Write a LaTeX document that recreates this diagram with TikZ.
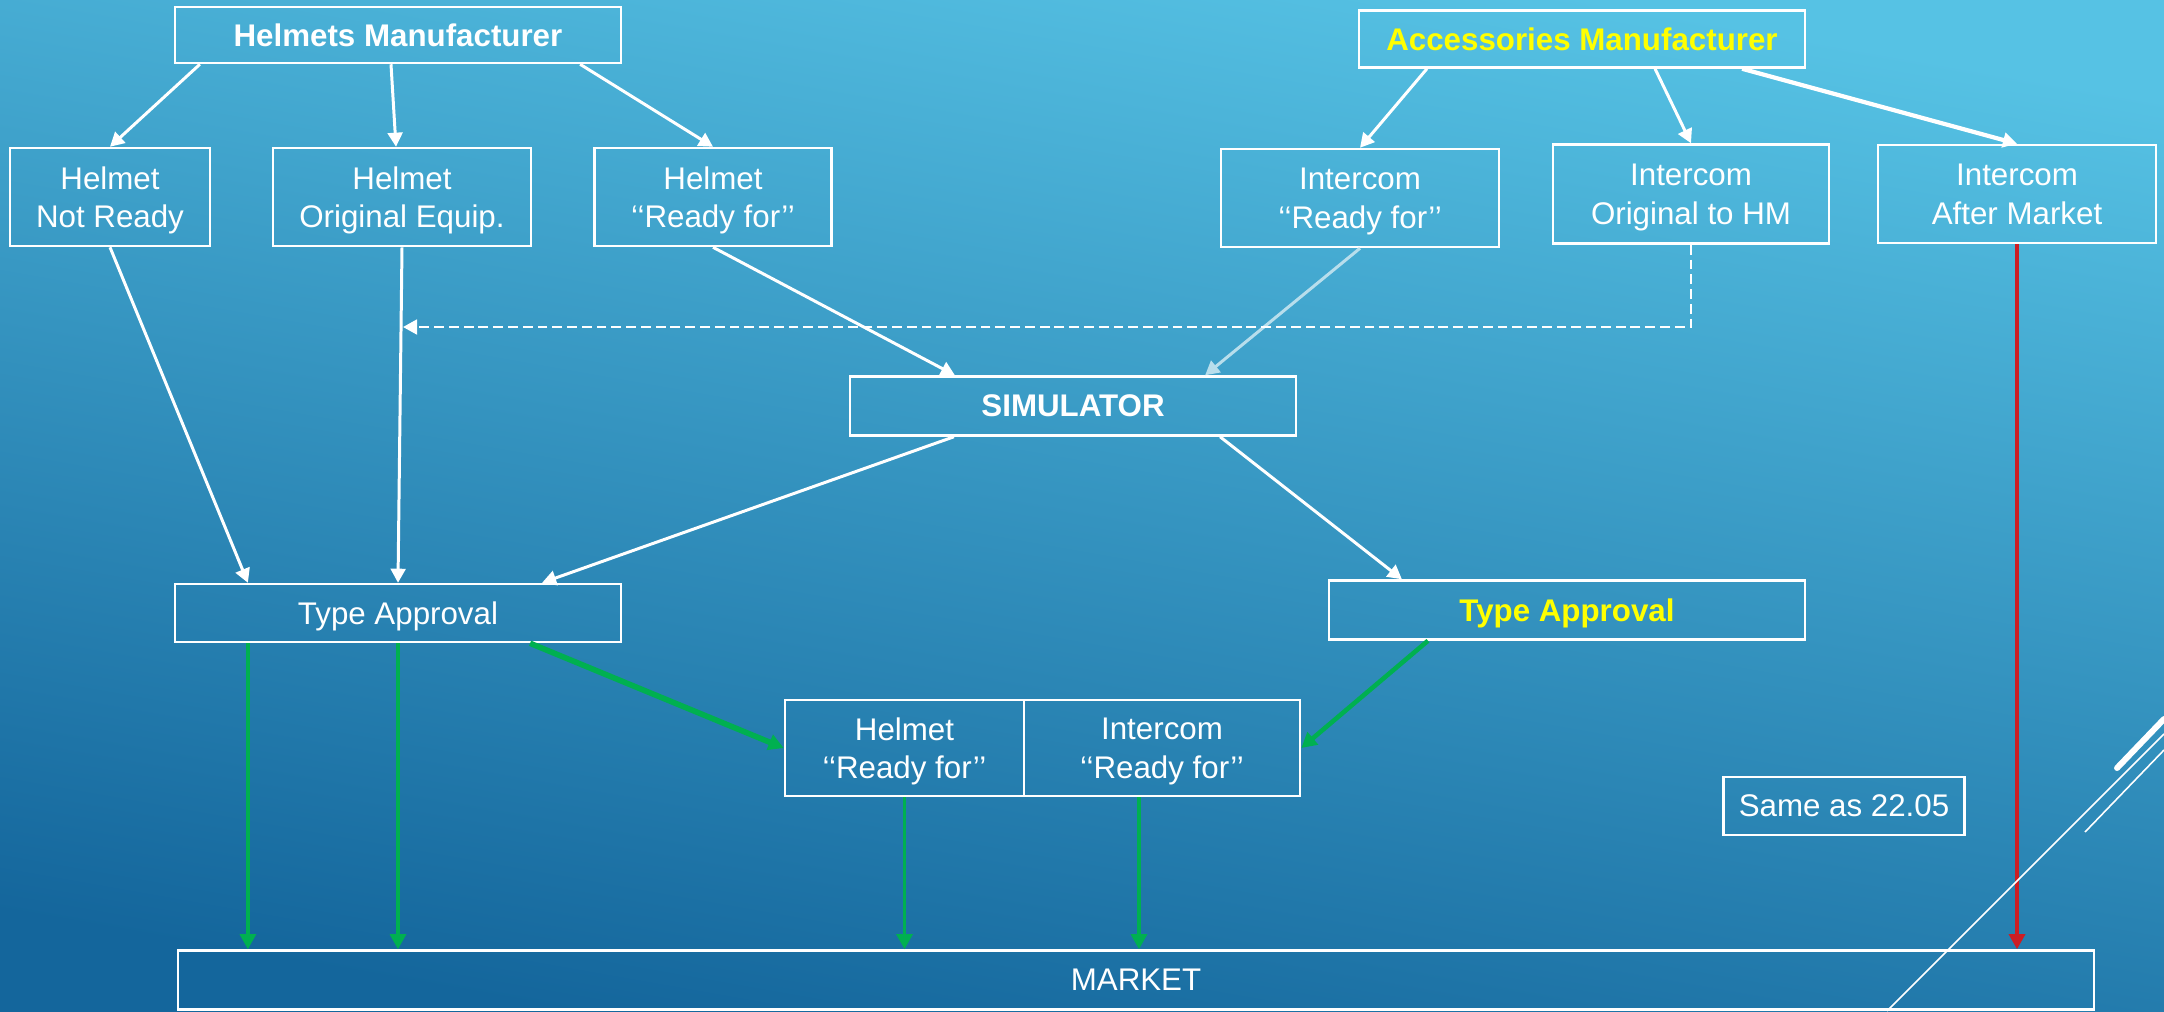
\documentclass[tikz,border=0pt]{standalone}
\usepackage{fontspec}
\setmainfont{Liberation Sans}
\usetikzlibrary{arrows.meta}
\definecolor{bgtop}{RGB}{86,194,228}
\definecolor{bgbottom}{RGB}{20,102,156}
\definecolor{accyellow}{RGB}{255,255,0}
\definecolor{tagreen}{RGB}{0,176,80}
\definecolor{amred}{RGB}{204,30,36}
\definecolor{paleblue}{RGB}{184,222,236}
\tikzset{
  box/.style={draw=white,line width=0.7pt,text=white,align=center,inner sep=0pt,
    text depth=0pt,font=\fontsize{8.9}{11}\selectfont},
  bbox/.style={box,font=\fontsize{8.9}{11}\selectfont\bfseries},
  wire/.style={draw=white,line width=0.85pt,-{Triangle[length=4pt,width=4.2pt]}},
  gwire/.style={draw=tagreen,line width=1pt,-{Triangle[length=4.3pt,width=4.5pt]}}
}
\begin{document}
\begin{tikzpicture}[x=0.01cm,y=-0.01cm]
\useasboundingbox (0,0) rectangle (2164,1011);
\shade[top color=bgtop,bottom color=bgbottom,shading angle=-10] (0,0) rectangle (2164,1011);

% manufacturers
\node[bbox,minimum width=4.46cm,minimum height=0.56cm] (hm) at (398,35) {Helmets Manufacturer};
\node[bbox,text=accyellow,minimum width=4.46cm,minimum height=0.57cm] (am) at (1582,39) {Accessories Manufacturer};

% products
\node[box,minimum width=2.0cm,minimum height=0.98cm] (hnr) at (110,197) {Helmet\\Not Ready};
\node[box,minimum width=2.58cm,minimum height=0.98cm] (hoe) at (402,197) {Helmet\\Original Equip.};
\node[box,minimum width=2.37cm,minimum height=0.98cm] (hrf) at (713,197) {Helmet\\‘‘Ready for’’};
\node[box,minimum width=2.78cm,minimum height=0.98cm] (irf) at (1360,198) {Intercom\\‘‘Ready for’’};
\node[box,minimum width=2.76cm,minimum height=0.99cm] (ioh) at (1691,194) {Intercom\\Original to HM};
\node[box,minimum width=2.78cm,minimum height=0.98cm] (iam) at (2017,194) {Intercom\\After Market};

\node[bbox,minimum width=4.46cm,minimum height=0.59cm] (sim) at (1073,406) {SIMULATOR};
\node[box,minimum width=4.46cm,minimum height=0.58cm] (tal) at (398,613) {Type Approval};
\node[bbox,text=accyellow,minimum width=4.76cm,minimum height=0.59cm] (tar) at (1567,610) {Type Approval};

\node[box,minimum width=2.39cm,minimum height=0.96cm] (bhr) at (904.5,748) {Helmet\\‘‘Ready for’’};
\node[box,minimum width=2.76cm,minimum height=0.96cm] (bir) at (1162,748) {Intercom\\‘‘Ready for’’};
\node[box,minimum width=2.41cm,minimum height=0.58cm] (same) at (1844,806) {Same as 22.05};
\node[box,minimum width=19.15cm,minimum height=0.59cm] (market) at (1136,980) {MARKET};

% white arrows
\draw[wire] ([xshift=-1.98cm]hm.south) -- (hnr.north);
\draw[wire] ([xshift=-0.07cm]hm.south) -- ([xshift=-0.06cm]hoe.north);
\draw[wire] ([xshift=1.82cm]hm.south) -- (hrf.north);
\draw[wire] ([xshift=-1.55cm]am.south) -- (irf.north);
\draw[wire] ([xshift=0.73cm]am.south) -- (ioh.north);
\draw[wire,line width=1.2pt] ([xshift=1.6cm]am.south) -- (iam.north);
\draw[wire] (hnr.south) -- ([xshift=-1.5cm]tal.north);
\draw[wire] (hoe.south) -- (tal.north);
\draw[wire] (hrf.south) -- ([xshift=-1.18cm]sim.north);
\draw[wire,draw=paleblue] (irf.south) -- ([xshift=1.32cm]sim.north);
\draw[wire] ([xshift=-1.19cm]sim.south) -- ([xshift=1.44cm]tal.north);
\draw[wire] ([xshift=1.47cm]sim.south) -- ([xshift=-1.65cm]tar.north);

\coordinate (oejoin) at (403,327);
\draw[wire,line width=0.75pt,dash pattern=on 2.8pt off 1.4pt] (ioh.south) |- (oejoin);

% green arrows
\coordinate (tal1) at ([xshift=-1.5cm]tal.south);
\draw[gwire] (tal1) -- (tal1 |- market.north);
\draw[gwire] (tal.south) -- (tal.south |- market.north);
\draw[gwire,line width=1.6pt] ([xshift=1.32cm]tal.south) -- (bhr.west);
\draw[gwire,line width=1.3pt] ([xshift=-1.39cm]tar.south) -- (bir.east);
\draw[gwire] (bhr.south) -- (bhr.south |- market.north);
\coordinate (bir1) at ([xshift=-0.23cm]bir.south);
\draw[gwire] (bir1) -- (bir1 |- market.north);
\draw[gwire,draw=amred,line width=1.3pt] (iam.south) -- (iam.south |- market.north);

% corner strokes
\draw[white,line width=0.45pt] (1887,1011) -- (2164,734);
\draw[white,line width=0.45pt] (2085,832) -- (2164,750);
\draw[white,line width=1.7pt,line cap=round] (2117,768) -- (2164,719);
\end{tikzpicture}
\end{document}
